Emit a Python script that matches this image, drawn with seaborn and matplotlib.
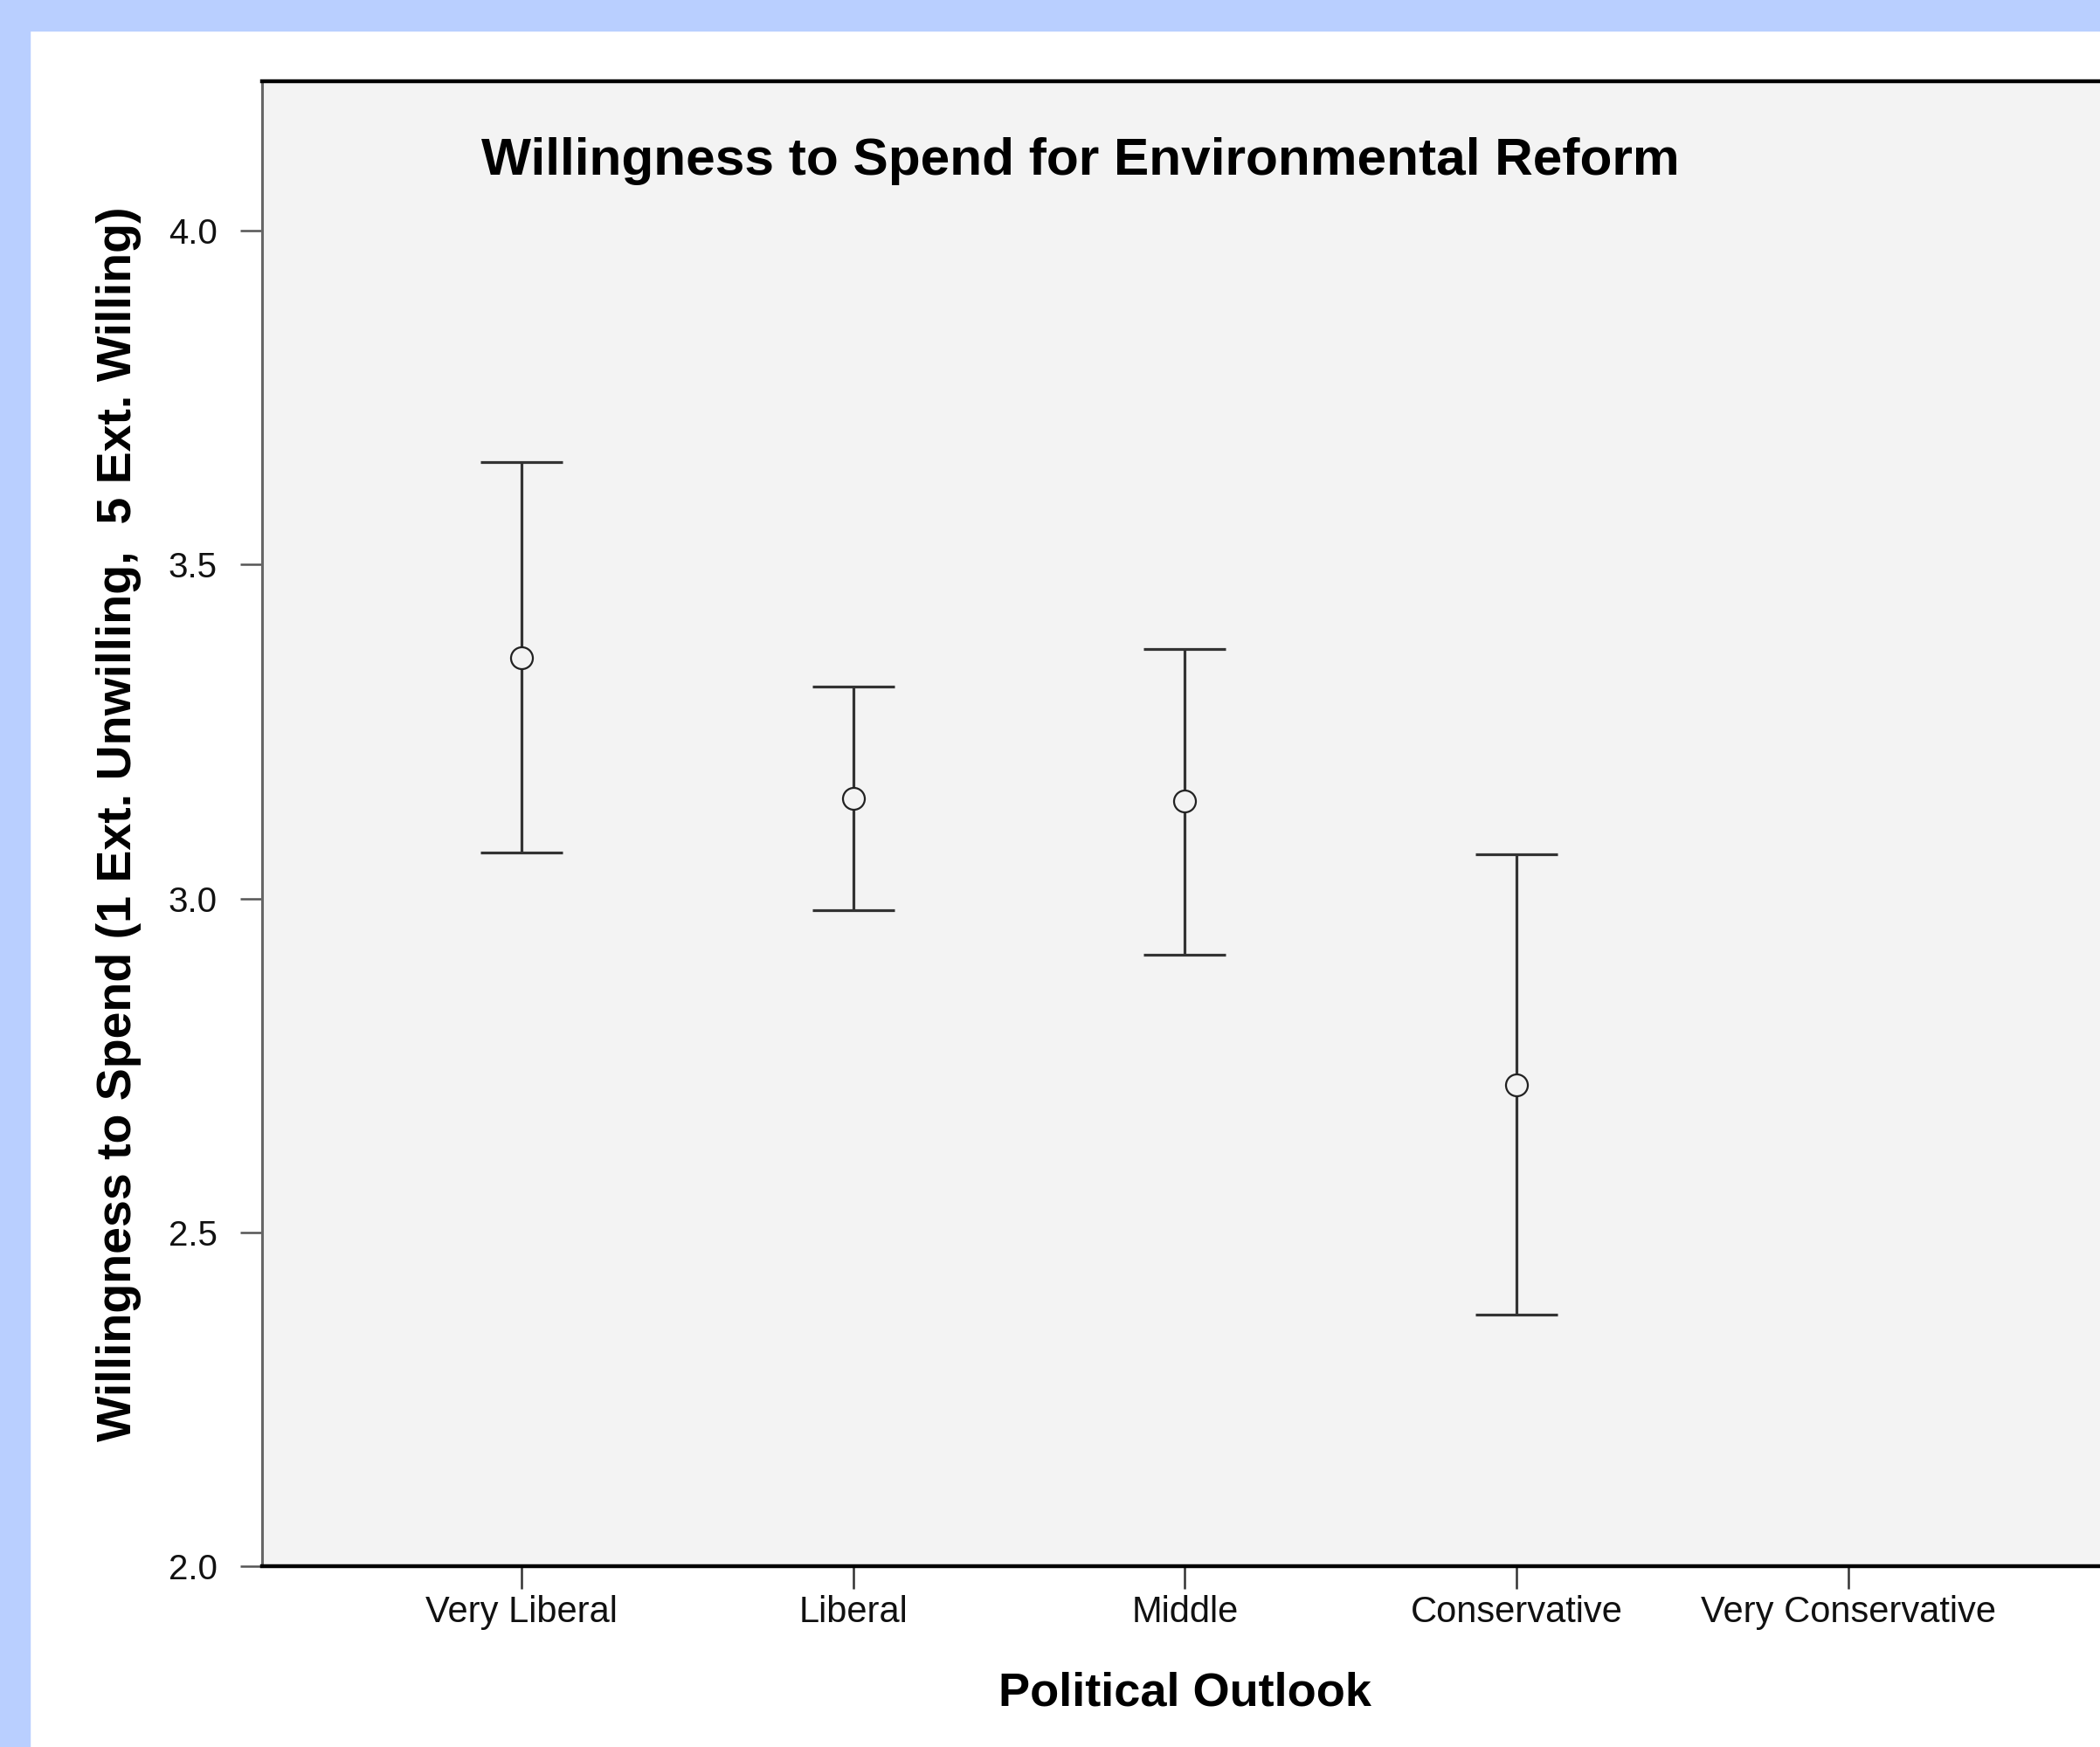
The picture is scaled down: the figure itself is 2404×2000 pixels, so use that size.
import numpy as np
import pandas as pd
import matplotlib
matplotlib.use("Agg")
import matplotlib.pyplot as plt
import seaborn as sns
from matplotlib.patches import Rectangle

# ---- data ----
categories = ["Very Liberal", "Liberal", "Middle", "Conservative", "Very Conservative"]
means = [3.361, 3.150, 3.146, 2.721, np.nan]
ci_upper = [3.653, 3.317, 3.374, 3.066, np.nan]
ci_lower = [3.069, 2.982, 2.916, 2.377, np.nan]
y_ticks = [2.0, 2.5, 3.0, 3.5, 4.0]
title = "Willingness to Spend for Environmental Reform"
x_label = "Political Outlook"
y_label = "Willingness to Spend (1 Ext. Unwilling,  5 Ext. Willing)"

df = pd.DataFrame({"outlook": categories, "mean": means,
                   "upper": ci_upper, "lower": ci_lower})

sns.set_theme(style="white")
plt.rcParams["font.family"] = ["Liberation Sans", "DejaVu Sans"]

BG = "#f3f3f3"
fig = plt.figure(figsize=(24.04, 20), dpi=100, facecolor="white")
ax = fig.add_axes([0.1248, 0.1035, 0.8789, 0.85])
ax.set_facecolor(BG)

# blue frame strips
fig.patches.append(Rectangle((0, 1 - 0.0175), 1, 0.0175, transform=fig.transFigure,
                             color="#b9cfff", zorder=0))
fig.patches.append(Rectangle((0, 0), 0.0141, 1, transform=fig.transFigure,
                             color="#b9cfff", zorder=0))

# error bars
d = df.dropna()
xpos = [categories.index(c) for c in d["outlook"]]
ax.errorbar(xpos, d["mean"], yerr=[d["mean"] - d["lower"], d["upper"] - d["mean"]],
            fmt="none", ecolor="#333333", elinewidth=2.3, capsize=34, capthick=2.3,
            zorder=2)

# means
sns.pointplot(data=df, x="outlook", y="mean", order=categories, ax=ax,
              linestyle="none", markers="o", errorbar=None, color="#222222",
              markersize=18, markerfacecolor=BG, markeredgecolor="#222222",
              markeredgewidth=1.6, zorder=3)

ax.set_xlim(-0.782, 4.782)
ax.set_ylim(2.0, 4.224)
ax.set_yticks(y_ticks)
ax.set_yticklabels([f"{v:.1f}" for v in y_ticks])

ax.tick_params(axis="x", length=19, width=1.8, color="#333333", pad=5,
               labelsize=30, labelcolor="#111111", direction="out", bottom=True)
ax.tick_params(axis="y", length=18, width=1.8, color="#555555", pad=19,
               labelsize=29, labelcolor="#111111", direction="out", left=True)

for s in ["top", "bottom"]:
    ax.spines[s].set_color("black")
    ax.spines[s].set_linewidth(3.2)
ax.spines["left"].set_color("#666666")
ax.spines["left"].set_linewidth(2.2)
ax.spines["right"].set_color("black")
ax.spines["right"].set_linewidth(3.0)

ax.set_xlabel(x_label, fontsize=39, fontweight="bold", color="black", va="center")
ax.xaxis.set_label_coords(0.5, -0.0855)
ax.set_ylabel(y_label, fontsize=40, fontweight="bold", color="black", va="center")
ax.yaxis.set_label_coords(-0.0776, 0.5)

ax.text(0.1188, 0.937, title, transform=ax.transAxes, fontsize=43.5,
        fontweight="bold", color="black", ha="left", va="baseline")

fig.savefig("out.png", dpi=100, facecolor="white")
